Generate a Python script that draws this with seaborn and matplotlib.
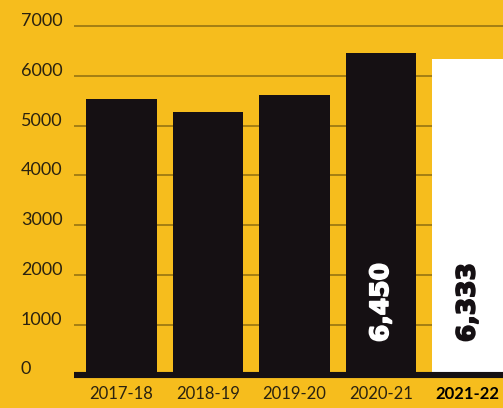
import matplotlib
matplotlib.use("Agg")
import matplotlib.pyplot as plt
import matplotlib.patheffects as pe
import seaborn as sns
import pandas as pd

# Yearly totals
seasons = ["2017-18", "2018-19", "2019-20", "2020-21", "2021-22"]
totals = [5540, 5280, 5620, 6450, 6333]
labelled = ["2020-21", "2021-22"]
y_ticks = [0, 1000, 2000, 3000, 4000, 5000, 6000, 7000]

YELLOW = "#F6BD1D"
INK = "#151013"
GRID = "#9E7A12"
TEXT = "#2A2210"

sns.set_theme(style="white")
plt.rcParams["font.family"] = ["Lato", "DejaVu Sans"]

df = pd.DataFrame({"season": seasons, "total": totals})
bar_colors = [INK, INK, INK, INK, "white"]

fig = plt.figure(figsize=(5.03, 4.08), dpi=100, facecolor=YELLOW)
ax = fig.add_axes([74 / 503, 33.5 / 408, 1 - 74 / 503, 1 - 33.5 / 408])
ax.set_facecolor(YELLOW)

sns.barplot(data=df, x="season", y="total", hue="season", palette=bar_colors,
            width=0.816, legend=False, ax=ax, saturation=1, linewidth=0)

ax.set_xlim(-0.546, 4.41)
ax.set_ylim(0, 7522)
ax.set_yticks(y_ticks)
ax.set_yticklabels([str(t) for t in y_ticks])
ax.set_axisbelow(True)
ax.yaxis.grid(True, color=GRID, linewidth=1.3)
ax.xaxis.grid(False)

for side in ["left", "right", "top"]:
    ax.spines[side].set_visible(False)
ax.spines["bottom"].set_color(INK)
ax.spines["bottom"].set_linewidth(4.4)
ax.spines["bottom"].set_capstyle("butt")

ax.tick_params(axis="y", length=0, pad=38.2, labelsize=13, labelcolor=TEXT)
for lab in ax.get_yticklabels():
    lab.set_horizontalalignment("left")
    lab.set_verticalalignment("baseline")

ax.tick_params(axis="x", length=0, pad=8, labelsize=12, labelcolor=TEXT)
xlabs = ax.get_xticklabels()
xlabs[-1].set_fontweight("bold")
xlabs[-1].set_color("black")
ax.set_xlabel("")
ax.set_ylabel("")

# Value labels written up the inside of the highlighted bars
for i, (s, v) in enumerate(zip(seasons, totals)):
    if s in labelled:
        col = "white" if bar_colors[i] == INK else INK
        ax.text(i, 650, f"{v:,}", rotation=90, ha="center", va="bottom",
                fontsize=18, fontweight="bold", color=col,
                family=["DejaVu Sans"],
                path_effects=[pe.withStroke(linewidth=1.2, foreground=col)])

fig.savefig("out.png", dpi=100, facecolor=YELLOW)
